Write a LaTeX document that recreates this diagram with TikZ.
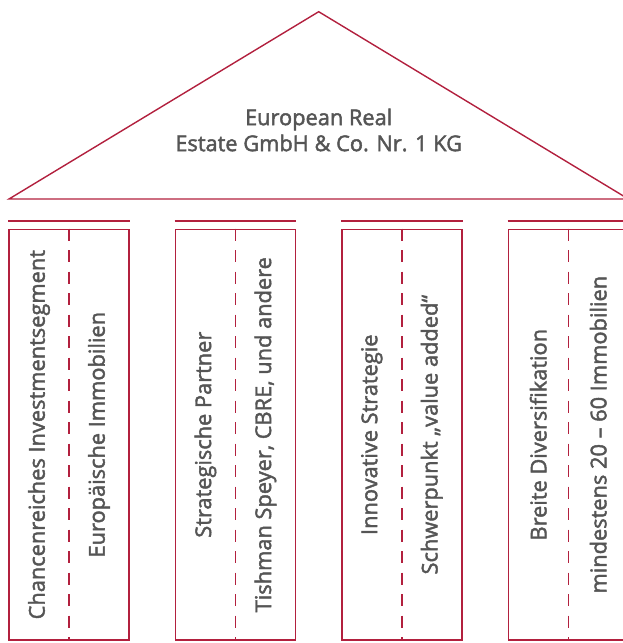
\documentclass[tikz,border=0pt]{standalone}
\usepackage{fontspec}
\setmainfont{Open Sans}[FakeBold=2]

\definecolor{roofred}{RGB}{178,32,62}
\definecolor{textgray}{RGB}{85,85,85}

\tikzset{
  line/.style={draw=roofred, line width=1.4pt},
  pillar/.style={line, rectangle, minimum width=120pt, minimum height=410.7pt, inner sep=0pt},
  pillartext/.style={text=textgray, font=\fontsize{21.8}{26}\selectfont, rotate=90, inner sep=0pt},
}

\begin{document}
\begin{tikzpicture}[x=1pt, y=-1pt]
    \useasboundingbox (0,0) rectangle (623,643);
    \clip (0,0) rectangle (623,643);

    % roof
    \coordinate (roofleft) at (9,199);
    \coordinate (rooftop) at (318.7,11.7);
    \coordinate (roofright) at (628.4,199);
    \draw[line] (roofleft) -- (rooftop) -- (roofright) -- cycle;
    \node[text=textgray, align=center, font=\fontsize{21.8}{26}\selectfont] (title) at (318.7,130) {European Real\\Estate GmbH \& Co. Nr. 1 KG};

    % pillars
    \node[pillar] (p1) at (69,434.7) {};
    \node[pillar] (p2) at (235.4,434.7) {};
    \node[pillar] (p3) at (401.8,434.7) {};
    \node[pillar] (p4) at (568.2,434.7) {};

    \foreach \p in {p1,p2,p3,p4} {
        \draw[line] ([yshift=7.6pt]\p.north west) -- ([yshift=7.6pt]\p.north east);
        \draw[line, dash pattern=on 12pt off 9.5pt] (\p.north) -- (\p.south);
    }

    \node[pillartext] (p1a) at (39,434.7) {Chancenreiches Investmentsegment};
    \node[pillartext] (p1b) at (99,434.7) {Europäische Immobilien};
    \node[pillartext] (p2a) at (205.4,434.7) {Strategische Partner};
    \node[pillartext] (p2b) at (265.4,434.7) {Tishman Speyer, CBRE, und andere};
    \node[pillartext] (p3a) at (371.8,434.7) {Innovative Strategie};
    \node[pillartext] (p3b) at (431.8,434.7) {Schwerpunkt „value added“};
    \node[pillartext] (p4a) at (538.2,434.7) {Breite Diversifikation};
    \node[pillartext] (p4b) at (598.2,434.7) {mindestens 20 – 60 Immobilien};
\end{tikzpicture}
\end{document}
